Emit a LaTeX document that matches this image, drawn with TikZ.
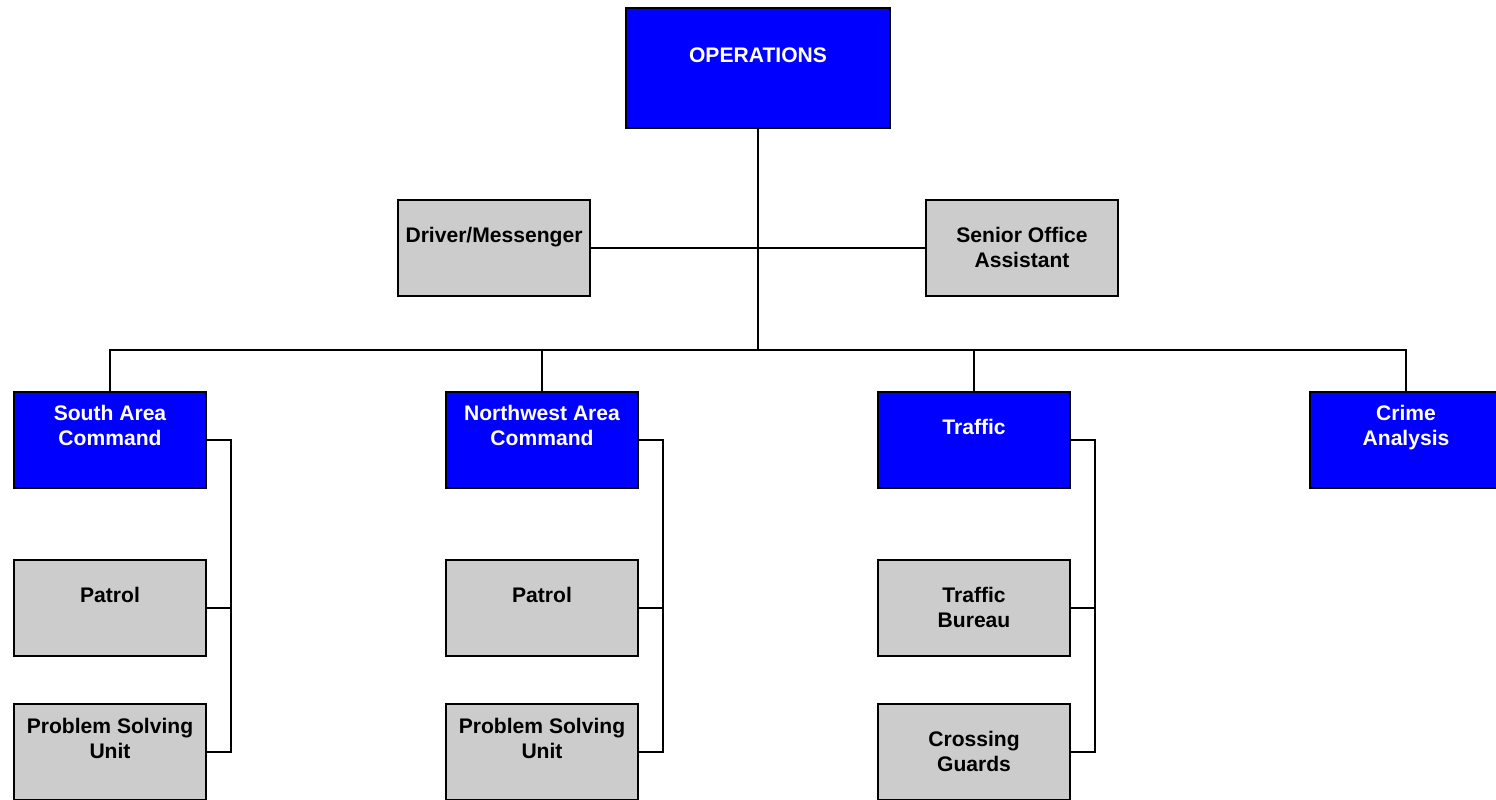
\documentclass[tikz,border=0pt]{standalone}
\usepackage{fontspec}
\setmainfont{Liberation Sans}
\usetikzlibrary{positioning}
\definecolor{unitblue}{RGB}{0,0,255}
\definecolor{unitgray}{RGB}{204,204,204}

\begin{document}
\begin{tikzpicture}[
  x=0.02cm, y=-0.02cm,
  box/.style={draw, line width=1.1pt, minimum width=3.84cm, minimum height=1.92cm, inner sep=0pt},
  bluebox/.style={box, fill=unitblue},
  graybox/.style={box, fill=unitgray},
  txt/.style={anchor=base, align=center, inner sep=0pt, font=\bfseries\fontsize{12}{14.2}\selectfont},
  link/.style={line width=0.9pt}
]
\useasboundingbox (0,0) rectangle (1496,799);
\clip (0,0) rectangle (1496,799);

% top
\node[bluebox, minimum width=5.28cm, minimum height=2.4cm] (ops) at (758,68) {};
\node[txt, white] at (758,62.6) {OPERATIONS};

\node[graybox] (drv) at (494,248) {};
\node[txt] at (494,242.6) {Driver/Messenger};
\node[graybox] (soa) at (1022,248) {};
\node[txt] at (1022,267.6) {Senior Office\\Assistant};

% commands
\node[bluebox] (sac) at (110,440) {};
\node[txt, white] at (110,445.6) {South Area\\Command};
\node[bluebox] (nwac) at (542,440) {};
\node[txt, white] at (542,445.6) {Northwest Area\\Command};
\node[bluebox] (trf) at (974,440) {};
\node[txt, white] at (974,434.6) {Traffic};
\node[bluebox] (crime) at (1406,440) {};
\node[txt, white] at (1406,445.6) {Crime\\Analysis};

% units
\node[graybox] (pat1) at (110,608) {};
\node[txt] at (110,602.6) {Patrol};
\node[graybox] (psu1) at (110,752) {};
\node[txt] at (110,758.6) {Problem Solving\\Unit};
\node[graybox] (pat2) at (542,608) {};
\node[txt] at (542,602.6) {Patrol};
\node[graybox] (psu2) at (542,752) {};
\node[txt] at (542,758.6) {Problem Solving\\Unit};
\node[graybox] (tbur) at (974,608) {};
\node[txt] at (974,627.6) {Traffic\\Bureau};
\node[graybox] (cgrd) at (974,752) {};
\node[txt] at (974,771.6) {Crossing\\Guards};

% connectors
\coordinate (bus) at (758,350);
\draw[link] (ops) -- (bus);
\draw[link] (drv) -- (soa);
\foreach \n in {sac,nwac,trf,crime}
  \draw[link] (\n.north) |- (bus);

\foreach \top/\mid/\bot in {sac/pat1/psu1,nwac/pat2/psu2,trf/tbur/cgrd} {
  \draw[link] (\top.east) -- ++(24,0) |- (\bot.east);
  \draw[link] (\mid.east) -- ++(24,0);
}
\end{tikzpicture}
\end{document}
